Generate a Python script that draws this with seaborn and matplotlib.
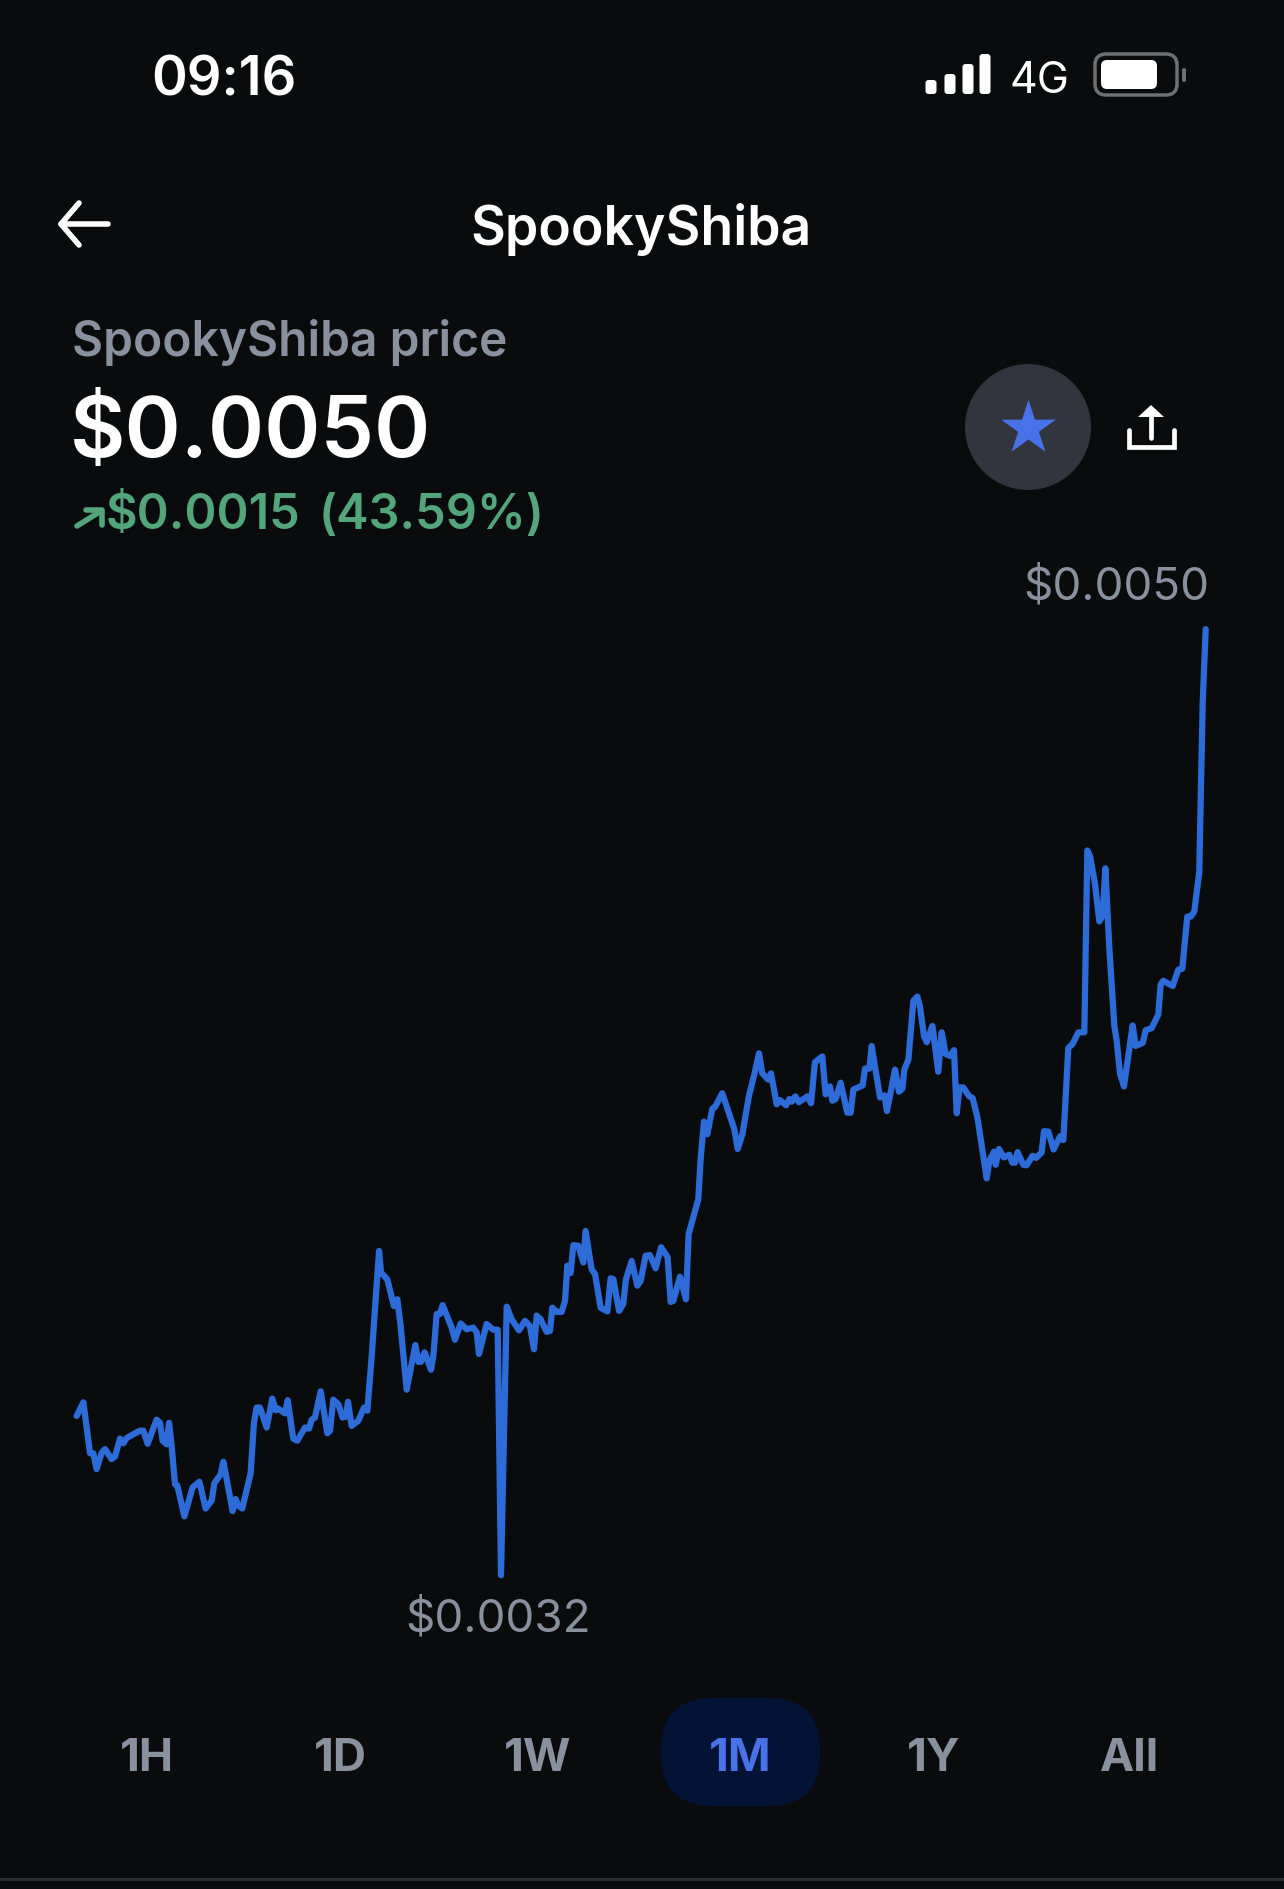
import numpy as np
import pandas as pd
import matplotlib
matplotlib.use('Agg')
import matplotlib.pyplot as plt
from matplotlib.patches import Circle, FancyBboxPatch, Polygon
import seaborn as sns

# hours since the start of the 1M window
hours = [
    -0.9, 3.6, 8.0, 10.2, 12.4, 15.8, 18.0, 22.4, 24.7, 28.0, 30.2, 32.4, 41.3, 43.6, 46.4, 52.4, 54.7, 56.4, 59.1, 60.7,
    62.4, 64.7, 66.2, 70.9, 76.4, 80.9, 85.1, 89.1, 90.9, 95.1, 96.9, 103.1, 105.1, 106.9, 109.5, 115.1, 117.3, 119.1, 121.3, 125.8,
    129.5, 131.8, 133.5, 138.0, 139.8, 143.5, 146.2, 151.3, 154.0, 155.8, 158.0, 161.8, 166.2, 168.0, 170.2, 173.6, 176.4, 178.7, 180.0, 182.4,
    186.9, 190.7, 192.9, 195.8, 200.7, 202.0, 206.2, 210.6, 212.9, 215.1, 219.1, 224.9, 226.9, 228.6, 231.1, 235.3, 236.9, 239.1, 241.3, 243.1,
    249.1, 251.3, 255.1, 259.1, 263.5, 265.8, 267.3, 272.4, 276.9, 279.8, 282.0, 285.8, 289.1, 294.0, 298.0, 301.3, 304.0, 305.8, 308.4, 312.4,
    314.7, 316.2, 319.1, 322.4, 324.7, 326.2, 328.4, 330.2, 333.5, 336.9, 338.4, 342.4, 344.7, 348.4, 352.9, 355.1, 356.9, 360.7, 363.5, 365.3,
    369.1, 372.9, 375.1, 378.4, 381.3, 385.1, 388.7, 393.1, 395.1, 396.9, 401.3, 405.3, 407.1, 413.5, 415.1, 417.3, 419.5, 422.9, 424.7, 429.5,
    437.5, 439.8, 442.9, 447.3, 450.9, 454.0, 456.2, 460.2, 462.0, 465.8, 468.0, 472.0, 474.2, 475.8, 478.2, 480.6, 486.2, 488.7, 491.3, 496.2,
    498.4, 501.3, 502.9, 505.1, 508.4, 512.9, 515.1, 516.9, 523.1, 524.7, 527.6, 529.1, 534.7, 537.6, 539.3, 544.7, 547.3, 549.6, 550.9, 553.6,
    556.9, 559.6, 561.3, 564.0, 565.8, 569.6, 573.5, 575.8, 578.4, 581.3, 584.0, 585.8, 587.6, 590.2, 594.2, 596.4, 599.6, 605.8, 607.6, 610.7,
    611.8, 614.0, 617.3, 620.9, 622.9, 624.7, 626.4, 630.2, 632.4, 636.4, 638.7, 642.4, 644.0, 646.9, 650.4, 654.7, 656.9, 660.2, 663.1, 666.9,
    670.9, 672.9, 674.7, 678.0, 680.9, 683.1, 684.9, 687.5, 690.9, 692.4, 694.7, 697.3, 703.1, 705.1, 709.8, 711.8, 715.8, 720.2, 721.8, 723.5,
    729.8, 733.5, 736.2, 739.5, 741.8, 744.2, 747.5, 749.8, 751.8,
]
# price in units of $0.0001
price = [
    35.03, 35.29, 34.32, 34.32, 34.02, 34.33, 34.40, 34.21, 34.26, 34.60, 34.51, 34.61, 34.75, 34.75, 34.50, 34.96, 34.90, 34.56, 34.49, 34.90,
    34.46, 33.73, 33.71, 33.12, 33.67, 33.78, 33.27, 33.42, 33.75, 33.92, 34.16, 33.22, 33.45, 33.32, 33.27, 33.94, 34.90, 35.19, 35.19, 34.81,
    35.36, 35.14, 35.17, 35.08, 35.33, 34.60, 34.56, 34.81, 34.79, 34.96, 35.00, 35.50, 34.70, 34.75, 35.34, 35.25, 35.00, 35.02, 35.30, 34.84,
    34.94, 35.19, 35.13, 36.17, 38.17, 37.76, 37.63, 37.12, 37.25, 36.74, 35.53, 36.38, 36.06, 36.06, 36.24, 35.91, 36.17, 36.97, 36.97, 37.14,
    36.71, 36.48, 36.79, 36.68, 36.71, 36.62, 36.21, 36.78, 36.67, 36.67, 32.00, 37.11, 36.87, 36.66, 36.84, 36.74, 36.30, 36.94, 36.87, 36.63,
    36.65, 37.09, 37.01, 37.01, 37.22, 37.89, 37.75, 38.28, 38.27, 37.95, 38.55, 37.82, 37.73, 37.09, 37.02, 37.65, 37.63, 37.03, 37.16, 37.63,
    37.98, 37.51, 37.60, 38.08, 38.09, 37.84, 38.24, 38.05, 37.20, 37.22, 37.68, 37.25, 38.49, 39.15, 39.92, 40.63, 40.39, 40.88, 40.91, 41.17,
    40.49, 40.11, 40.39, 41.12, 41.53, 41.93, 41.55, 41.43, 41.55, 40.96, 41.04, 40.94, 41.06, 41.01, 41.11, 41.00, 41.11, 40.98, 41.76, 41.87,
    41.15, 41.30, 41.03, 41.06, 41.37, 40.80, 40.80, 41.24, 41.32, 41.64, 41.64, 42.07, 41.09, 41.13, 40.83, 41.62, 41.20, 41.26, 41.62, 41.81,
    42.93, 43.01, 42.82, 42.26, 42.14, 42.45, 41.58, 42.33, 41.92, 41.88, 41.99, 40.79, 41.28, 41.28, 41.11, 41.08, 40.71, 39.55, 39.89, 40.06,
    39.81, 40.11, 39.95, 40.00, 39.85, 39.85, 40.05, 39.81, 39.80, 39.98, 39.94, 40.04, 40.45, 40.44, 40.10, 40.35, 40.28, 42.03, 42.11, 42.33,
    42.33, 45.79, 45.68, 45.15, 44.44, 44.55, 45.45, 43.95, 42.45, 42.18, 41.54, 41.30, 42.46, 42.07, 42.13, 42.37, 42.41, 42.67, 43.24, 43.31,
    43.21, 43.52, 43.54, 44.53, 44.53, 44.63, 45.38, 48.61, 50.00,
]
ranges = ['1H', '1D', '1W', '1M', '1Y', 'All']
selected_range = '1M'

BG = '#0A0B0D'
GREY = '#8A919E'
BLUE = '#4A72E8'
LINE = '#2D6BD8'
GREEN = '#53A67C'

sns.set_theme(style='dark')
plt.rcParams['font.family'] = ['Inter', 'DejaVu Sans']

W, H = 1284, 1890
fig = plt.figure(figsize=(W / 100, H / 100), dpi=100, facecolor=BG)

# background layer in screen pixels for the app chrome
ui = fig.add_axes([0, 0, 1, 1], facecolor=BG)
ui.set_xlim(0, W)
ui.set_ylim(H, 0)
ui.axis('off')

# price chart on top, transparent
ax = fig.add_axes([0, 0, 1, 1], facecolor='none')
df = pd.DataFrame({'hour': hours, 'price': np.array(price) * 1e-4})
sns.lineplot(data=df, x='hour', y='price', ax=ax, color=LINE, linewidth=4.5, sort=False,
             estimator=None, solid_joinstyle='round', solid_capstyle='round')
ax.set_xlim(-52, 804)
ax.set_ylim(26.03e-4, 61.99e-4)
ax.axis('off')

# status bar
ui.text(151, 95, '09:16', color='white', fontsize=39, fontweight='semibold', va='baseline')
for x, top in zip([931, 950, 968, 985], [81, 75, 65, 55]):
    ui.add_patch(FancyBboxPatch((x - 5.5, top), 11, 95 - top, boxstyle='round,pad=0,rounding_size=3', fc='white', ec='none'))
ui.text(1010, 93, '4G', color='white', fontsize=31, va='baseline')
ui.add_patch(FancyBboxPatch((1095, 55), 82, 41, boxstyle='round,pad=0,rounding_size=11', fc='none', ec='#6E7074', lw=2.5))
ui.add_patch(FancyBboxPatch((1101, 61), 56, 29, boxstyle='round,pad=0,rounding_size=6', fc='white', ec='none'))
ui.add_patch(FancyBboxPatch((1182, 69), 4, 14, boxstyle='round,pad=0,rounding_size=2', fc='#6E7074', ec='none'))

# header
ui.plot([108, 61], [225, 225], color='white', lw=4)
ui.plot([79, 61, 79], [204, 225, 246], color='white', lw=4)
ui.text(641, 245, 'SpookyShiba', color='white', fontsize=38.5, fontweight='semibold', ha='center', va='baseline')

# price block
ui.text(72, 356, 'SpookyShiba price', color=GREY, fontsize=34.5, fontweight='semibold', va='baseline')
ui.text(70, 457, f'${df.price.iloc[-1]:.4f}', color='white', fontsize=61.5, fontweight='semibold', va='baseline')
ui.plot([77, 101], [527, 512], color=GREEN, lw=4)
ui.plot([86, 102, 102], [511, 511, 526], color=GREEN, lw=4)
ui.text(106, 529, '$0.0015', color=GREEN, fontsize=35, fontweight='semibold', va='baseline')
ui.text(319, 529, '(43.59%)', color=GREEN, fontsize=35, fontweight='semibold', va='baseline')

# favourite and share buttons
ui.add_patch(Circle((1028, 428), 63, fc='#32353D', ec='none'))
ui.scatter([1028], [429], marker='*', s=1700, color=BLUE, linewidths=0)
ui.plot([1129, 1129, 1174, 1174], [431, 448, 448, 431], color='white', lw=3.4, solid_joinstyle='miter')
ui.plot([1151, 1151], [414, 439], color='white', lw=3.4)
ui.add_patch(Polygon([[1151, 406], [1138, 418], [1164, 418]], fc='white', ec='none'))

# high and low labels
ui.text(1023, 599, f'${df.price.max():.4f}', color=GREY, fontsize=33, va='baseline')
ui.text(405, 1631, f'${df.price.min():.4f}', color=GREY, fontsize=33, va='baseline')

# range selector
ui.add_patch(FancyBboxPatch((661, 1699), 159, 108, boxstyle='round,pad=0,rounding_size=52', fc='#021336', ec='none'))
for name, x in zip(ranges, [147, 340, 538, 740, 934, 1130]):
    col = BLUE if name == selected_range else GREY
    ui.text(x, 1771, name, color=col, fontsize=33, fontweight='bold', ha='center', va='baseline')
ui.plot([0, W], [1880, 1880], color='#2A2C30', lw=2.2)

fig.savefig('out.png', dpi=100, facecolor=BG)
